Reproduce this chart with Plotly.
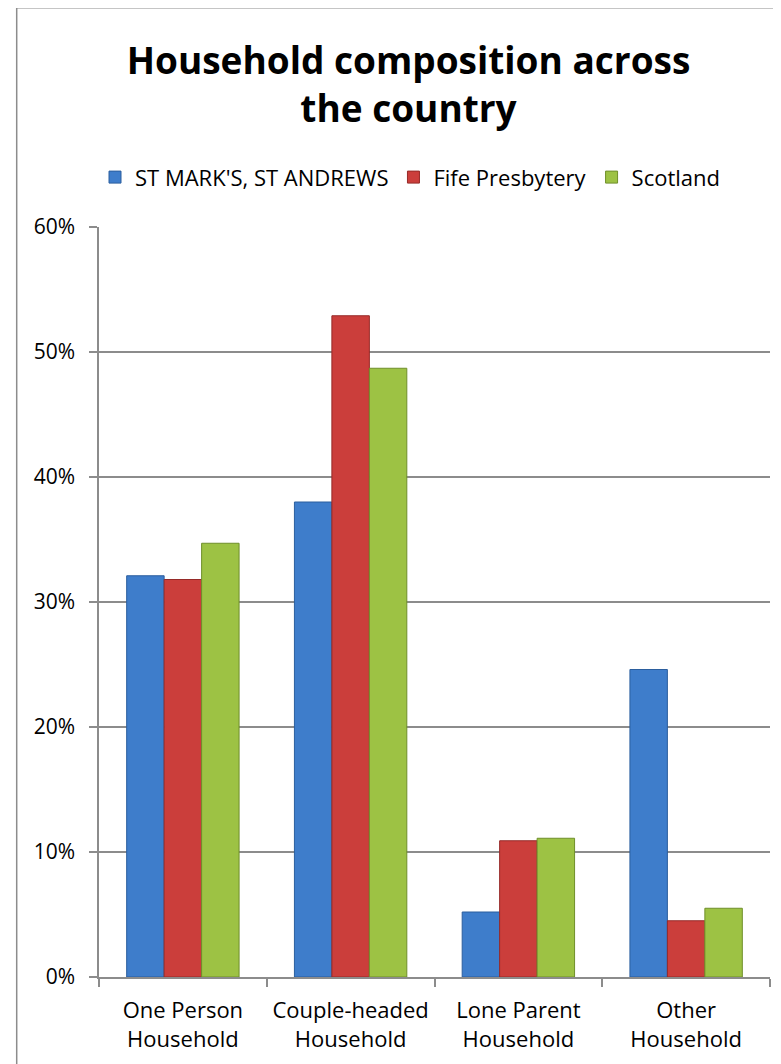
import plotly.graph_objects as go

categories = ["One Person<br>Household", "Couple-headed<br>Household",
              "Lone Parent<br>Household", "Other<br>Household"]
series_names = ["ST MARK'S, ST ANDREWS", "Fife Presbytery", "Scotland"]
st_marks = [0.321, 0.380, 0.052, 0.246]
fife = [0.318, 0.529, 0.109, 0.045]
scotland = [0.347, 0.487, 0.111, 0.055]
y_ticks = [0, 0.1, 0.2, 0.3, 0.4, 0.5, 0.6]
y_tick_labels = ["0%", "10%", "20%", "30%", "40%", "50%", "60%"]

colors = ["#3E7DCB", "#CB3E3B", "#9DC244"]
edges = ["#2B5E9E", "#962A28", "#6F8F2A"]

fig = go.Figure()
for name, vals, c, e in zip(series_names, [st_marks, fife, scotland], colors, edges):
    fig.add_trace(go.Bar(name=name, x=categories, y=vals,
                         marker=dict(color=c, line=dict(color=e, width=1))))

# page has an 8px body margin; figure coordinates = page coordinates - 8
OFF = 8
W, H = 781 - OFF, 1064 - OFF
PL, PR, PT, PB = 99 - OFF, 770 - OFF, 226.7 - OFF, 976.7 - OFF
pw, ph = PR - PL, PB - PT

FONT = "Open Sans"
fig.update_layout(
    width=W, height=H,
    paper_bgcolor="white", plot_bgcolor="white",
    margin=dict(l=PL, r=W - PR, t=PT, b=H - PB, pad=0),
    barmode="group", bargap=0.33, bargroupgap=0,
    font=dict(family=FONT, color="black", size=21),
    title=dict(text="<b>Household composition across<br>the country</b>",
               x=(408.5 - OFF) / W, xanchor="center", y=1 - (74 - OFF) / H, yanchor="middle",
               yref="container", font=dict(family=FONT, size=37, color="black")),
    legend=dict(orientation="h", x=(410 - OFF - PL) / pw, xanchor="center",
                y=1 + (PT - (177 - OFF)) / ph, yanchor="middle",
                font=dict(family=FONT, size=22, color="black"),
                itemwidth=30, tracegroupgap=0),
    showlegend=True,
)
fig.update_yaxes(range=[0, 0.6], tickvals=y_ticks, ticktext=y_tick_labels,
                 showgrid=True, gridcolor="#8C8C8C", gridwidth=1.5,
                 showline=True, linecolor="#8C8C8C", linewidth=1.5,
                 ticks="outside", ticklen=8, tickcolor="#8C8C8C", tickwidth=1.5,
                 ticklabelstandoff=10, zeroline=False,
                 tickfont=dict(family=FONT, size=21, color="black"))
fig.update_xaxes(showline=True, linecolor="#8C8C8C", linewidth=1.5,
                 ticks="outside", tickson="boundaries", ticklen=8,
                 tickcolor="#8C8C8C", tickwidth=1.5, ticklabelstandoff=13,
                 tickfont=dict(family=FONT, size=22, color="black"))

# outer chart frame
fig.add_shape(type="rect", xref="paper", yref="paper",
              x0=(16.7 - OFF - PL) / pw, x1=1.1, y0=-0.2, y1=1 + (PT - (7.5 - OFF)) / ph,
              line=dict(color="#8C8C8C", width=1.5), layer="below")

fig.write_html("out.html")
